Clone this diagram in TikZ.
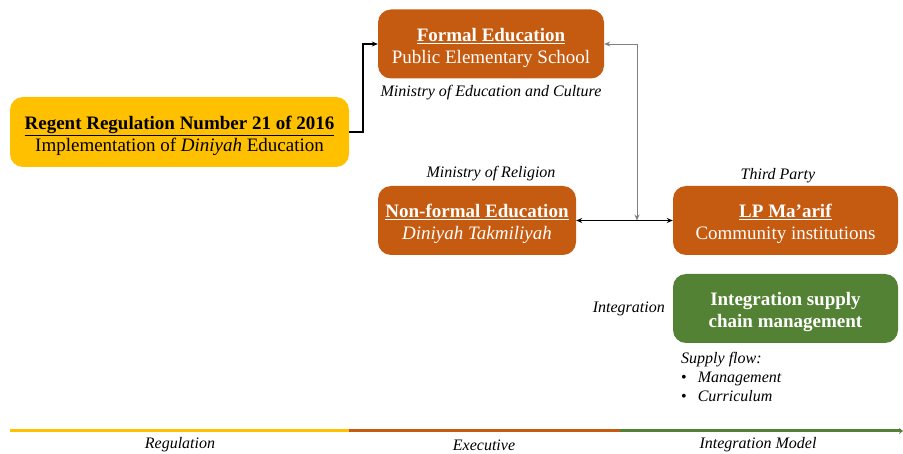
\documentclass[tikz,border=0pt]{standalone}
\usepackage{fontspec}
\setmainfont{Liberation Serif}
\usetikzlibrary{positioning,arrows.meta}
\definecolor{regyellow}{HTML}{FFC000}
\definecolor{exeorange}{HTML}{C55A11}
\definecolor{intgreen}{HTML}{548235}
\begin{document}
\begin{tikzpicture}[
  x=1pt,y=-1pt,
  yellowblock/.style={
    rectangle,
    rounded corners=13pt,
    fill=regyellow,
    text=black,
    align=center,
    inner sep=0pt,
    minimum width=339pt,
    minimum height=70pt,
    text height=43pt,
    font=\fontsize{19}{22}\selectfont
  },
  orangeblock/.style={
    rectangle,
    rounded corners=13pt,
    fill=exeorange,
    text=white,
    align=center,
    inner sep=0pt,
    minimum width=226pt,
    minimum height=69pt,
    text height=43pt,
    font=\fontsize{19}{22}\selectfont
  },
  greenblock/.style={
    rectangle,
    rounded corners=13pt,
    fill=intgreen,
    text=white,
    align=center,
    inner sep=0pt,
    minimum width=225pt,
    minimum height=69pt,
    text height=42pt,
    font=\fontsize{19}{22}\selectfont\bfseries
  },
  caption/.style={
    font=\fontsize{16}{19}\selectfont\itshape,
    inner sep=0pt
  },
  link/.style={
    line width=0.9pt,
    {Stealth[length=6pt,width=5pt]}-{Stealth[length=6pt,width=5pt]}
  }]
  \useasboundingbox (0,0) rectangle (903,454);

  % blocks
  \node[yellowblock] (regent) at (179.5,132)
    {\underline{\textbf{Regent Regulation Number 21 of 2016}}\\Implementation of \textit{Diniyah} Education};
  \node[orangeblock] (formal) at (491,44)
    {\underline{\textbf{Formal Education}}\\Public Elementary School};
  \node[orangeblock, minimum width=198pt] (nonformal) at (477,220.5)
    {\underline{\textbf{Non-formal Education}}\\\textit{Diniyah Takmiliyah}};
  \node[orangeblock, minimum width=225pt] (maarif) at (785.5,220.5)
    {\underline{\textbf{LP Ma'arif}}\\Community institutions};
  \node[greenblock] (supply) at (785.5,308.5)
    {Integration supply\\chain management};

  % captions
  \node[caption] (moec) at (491,93) {Ministry of Education and Culture};
  \node[caption] (mor) at (491,174) {Ministry of Religion};
  \node[caption] (third) at (778,176) {Third Party};
  \node[caption, anchor=east] (integ) at (665,309) {Integration};
  \node[caption, anchor=north west, align=left] (flow) at (681,352)
    {Supply flow:\\\upshape\textbullet\hspace{11pt}\itshape Management\\\upshape\textbullet\hspace{11pt}\itshape Curriculum};

  % connectors
  \coordinate (elbow) at (363,44);
  \coordinate (junction) at (637,220.5);
  \draw[line width=1.3pt, -{Stealth[length=6pt,width=5pt]}] (regent.east) -| (elbow) -- (formal.west);
  \draw[link, draw=black!50] (formal.east) -| (junction);
  \draw[link] (nonformal.east) -- (maarif.west);

  % time line
  \coordinate (t0) at (10,431);
  \coordinate (t1) at (349,431);
  \coordinate (t2) at (620,431);
  \coordinate (t3) at (903,431);
  \draw[line width=3pt, regyellow] (t0) -- (t1);
  \draw[line width=3pt, exeorange] (t1) -- (t2);
  \draw[line width=3pt, intgreen, -{Stealth[length=4pt,width=6pt]}] (t2) -- (t3);
  \node[caption] (reg) at (180,445) {Regulation};
  \node[caption] (exe) at (484,445) {Executive};
  \node[caption] (intm) at (758,445) {Integration Model};
\end{tikzpicture}
\end{document}
